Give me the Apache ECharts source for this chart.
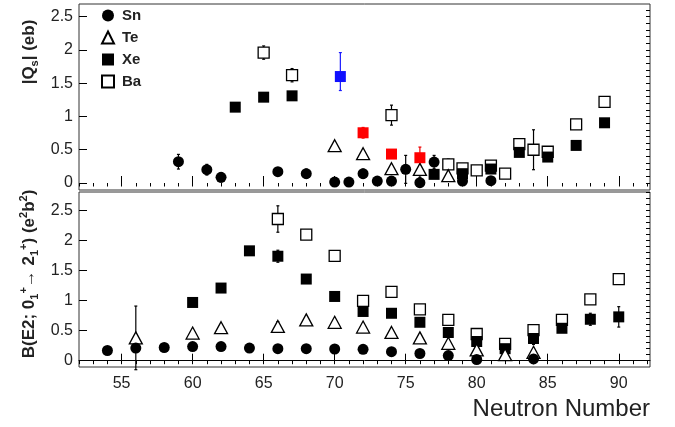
<!DOCTYPE html>
<html>
<head>
<meta charset="utf-8">
<script src="https://cdn.jsdelivr.net/npm/echarts@6/dist/echarts.min.js"></script>
<style>
  html, body { margin: 0; padding: 0; background: #fff; }
  #chart { width: 675px; height: 427px; }
</style>
</head>
<body>
<div id="chart"></div>
<script>
// [N, value, errDown, errUp]
// top panel: |Qs| (eb)
const qSn = [
  [59, 0.32, 0.11, 0.11], [61, 0.20, 0.08, 0.08], [62, 0.085, 0.07, 0.07], [66, 0.17, 0, 0],
  [68, 0.14, 0.07, 0.07], [70, 0.015, 0, 0], [71, 0.015, 0, 0], [72, 0.14, 0.07, 0.07],
  [73, 0.03, 0, 0], [74, 0.03, 0.03, 0.03], [75, 0.205, 0.21, 0.21], [76, 0.005, 0.03, 0.03],
  [77, 0.315, 0.1, 0.1], [79, 0.03, 0.03, 0], [81, 0.035, 0, 0]
]
const qTe = [
  [70, 0.56, 0, 0], [72, 0.44, 0, 0], [74, 0.215, 0, 0], [76, 0.205, 0.12, 0.12], [78, 0.11, 0, 0]
]
const qXe = [
  [63, 1.14, 0, 0], [65, 1.29, 0, 0], [67, 1.31, 0, 0], [77, 0.13, 0, 0], [79, 0.14, 0, 0],
  [81, 0.21, 0, 0], [83, 0.46, 0, 0], [85, 0.39, 0, 0], [87, 0.565, 0, 0], [89, 0.905, 0, 0]
]
const qXeRed = [
  [72, 0.755, 0.08, 0.08], [74, 0.435, 0, 0], [76, 0.38, 0.16, 0.16]
]
const qXeBlue = [
  [70.4, 1.6, 0.21, 0.36]
]
const qBa = [
  [65, 1.96, 0.1, 0.1], [67, 1.62, 0.1, 0.1], [74, 1.02, 0.15, 0.15], [78, 0.28, 0.08, 0.08],
  [79, 0.22, 0, 0], [80, 0.19, 0, 0], [81, 0.26, 0, 0], [82, 0.14, 0, 0], [83, 0.585, 0, 0],
  [84, 0.5, 0.3, 0.3], [85, 0.47, 0, 0], [87, 0.88, 0, 0], [89, 1.22, 0, 0]
]

// bottom panel: B(E2) (e2b2)
const bSn = [
  [54, 0.17, 0, 0], [56, 0.21, 0, 0], [58, 0.22, 0, 0], [60, 0.235, 0, 0], [62, 0.235, 0, 0],
  [64, 0.21, 0, 0], [66, 0.2, 0, 0], [68, 0.2, 0, 0], [70, 0.195, 0, 0], [72, 0.19, 0, 0],
  [74, 0.15, 0, 0], [76, 0.12, 0, 0], [78, 0.085, 0, 0], [80, 0.02, 0, 0], [84, 0.03, 0, 0]
]
const bTe = [
  [56, 0.38, 0.53, 0.53], [60, 0.46, 0, 0], [62, 0.55, 0, 0], [66, 0.57, 0.08, 0.08],
  [68, 0.68, 0, 0], [70, 0.64, 0, 0], [72, 0.56, 0, 0], [74, 0.47, 0, 0], [76, 0.38, 0, 0],
  [78, 0.29, 0, 0], [80, 0.18, 0, 0], [82, 0.1, 0, 0], [84, 0.14, 0, 0]
]
const bXe = [
  [60, 0.97, 0, 0], [62, 1.21, 0, 0], [64, 1.83, 0, 0], [66, 1.74, 0.1, 0.1], [68, 1.36, 0, 0],
  [70, 1.07, 0, 0], [72, 0.82, 0, 0], [74, 0.79, 0, 0], [76, 0.64, 0, 0], [78, 0.47, 0, 0],
  [80, 0.32, 0, 0], [82, 0.2, 0, 0], [84, 0.37, 0.1, 0.1], [86, 0.54, 0, 0],
  [88, 0.69, 0.1, 0.1], [90, 0.73, 0.17, 0.17]
]
const bBa = [
  [66, 2.36, 0.22, 0.22], [68, 2.1, 0, 0], [70, 1.745, 0, 0], [72, 0.995, 0, 0], [74, 1.145, 0, 0],
  [76, 0.855, 0, 0], [78, 0.68, 0, 0], [80, 0.445, 0, 0], [82, 0.28, 0, 0], [84, 0.51, 0, 0],
  [86, 0.68, 0, 0], [88, 1.02, 0, 0], [90, 1.36, 0, 0]
]

const xLabels = [55, 60, 65, 70, 75, 80, 85, 90]
const yLabels = [0, 0.5, 1, 1.5, 2, 2.5]
const xMinor = []
for (let n = 52; n <= 92; n++) xMinor.push(n)
const yMinor = []
for (let i = 0; i <= 28; i++) yMinor.push(+(i * 0.1).toFixed(1))

const FONT = '"Liberation Sans", Arial, sans-serif'
const X_MIN = 52, X_MAX = 92.2
const Y_MIN = -0.105

const chart = echarts.init(document.getElementById('chart'))

function xAxis(grid, ticks, len, labels) {
  return {
    type: 'value', gridIndex: grid, min: X_MIN, max: X_MAX,
    splitLine: { show: false },
    axisLine: { show: !!labels, lineStyle: { color: '#000', width: 1 } },
    axisTick: { inside: true, length: len, customValues: ticks, lineStyle: { color: '#000' } },
    axisLabel: labels ? { customValues: labels, color: '#222', fontSize: 16, fontFamily: FONT, margin: 9 } : { show: false }
  }
}
function yAxis(grid, max, ticks, len, labels) {
  return {
    type: 'value', gridIndex: grid, min: Y_MIN, max: max,
    splitLine: { show: false },
    axisLine: { show: false },
    axisTick: { inside: true, length: len, customValues: ticks, lineStyle: { color: '#000' } },
    axisLabel: labels ? {
      customValues: labels, color: '#222', fontSize: 16, fontFamily: FONT, margin: 6,
      formatter: v => String(v)
    } : { show: false }
  }
}

const solid = { color: '#000', opacity: 1 }
const hollow = { color: '#fff', borderColor: '#000', borderWidth: 1.3, opacity: 1 }

function scat(name, data, grid, symbol, size, style, z) {
  return {
    type: 'scatter', name: name, xAxisIndex: grid * 2, yAxisIndex: grid * 2,
    data: data.map(d => [d[0], d[1]]),
    symbol: symbol, symbolSize: size, itemStyle: style, z: z,
    emphasis: { disabled: true }, silent: true
  }
}
function errs(data, grid, color) {
  return {
    type: 'custom', xAxisIndex: grid * 2, yAxisIndex: grid * 2, z: 1, silent: true,
    data: data.filter(d => d[2] > 0 || d[3] > 0),
    encode: { x: 0, y: 1 },
    renderItem: function (params, api) {
      const x = api.value(0), y = api.value(1)
      const lo = api.coord([x, y - api.value(2)])
      const hi = api.coord([x, y + api.value(3)])
      const st = { stroke: color, lineWidth: 1.2 }
      return {
        type: 'group',
        children: [
          { type: 'line', shape: { x1: lo[0], y1: lo[1], x2: hi[0], y2: hi[1] }, style: st },
          { type: 'line', shape: { x1: lo[0] - 1.5, y1: lo[1], x2: lo[0] + 1.5, y2: lo[1] }, style: st },
          { type: 'line', shape: { x1: hi[0] - 1.5, y1: hi[1], x2: hi[0] + 1.5, y2: hi[1] }, style: st }
        ]
      }
    }
  }
}

const option = {
  animation: false,
  grid: [
    { left: 79, right: 25, top: 4, height: 186, show: true, borderColor: '#333', borderWidth: 1 },
    { left: 79, right: 25, top: 192, height: 175, show: true, borderColor: '#333', borderWidth: 1 }
  ],
  xAxis: [
    xAxis(0, xLabels, 7),
    xAxis(0, xMinor, 3.5),
    xAxis(1, xLabels, 7, xLabels),
    xAxis(1, xMinor, 3.5)
  ],
  yAxis: [
    yAxis(0, 2.69, yLabels, 8, yLabels),
    yAxis(0, 2.69, yMinor, 4),
    yAxis(1, 2.81, yLabels, 8, yLabels),
    yAxis(1, 2.81, yMinor, 4)
  ],
  legend: {
    orient: 'vertical', left: 96, top: 3,
    itemWidth: 12, itemHeight: 12, itemGap: 7,
    selectedMode: false,
    textStyle: { fontFamily: FONT, fontSize: 15, fontWeight: 'bold', color: '#222', padding: [0, 0, 0, 3] },
    data: ['Sn', 'Te', 'Xe', 'Ba']
  },
  graphic: [
    {
      type: 'text', x: 29, y: 52, rotation: Math.PI / 2,
      style: {
        text: '|Q{sub|s}| (eb)',
        font: 'bold 17px ' + FONT, fill: '#222', align: 'center', verticalAlign: 'middle',
        lineHeight: 22,
        rich: {
          sub: { fontSize: 11, fontWeight: 'bold', fontFamily: FONT, lineHeight: 11, verticalAlign: 'bottom', fill: '#222' }
        }
      }
    },
    {
      type: 'text', x: 29, y: 274, rotation: Math.PI / 2,
      style: {
        text: 'B(E2; 0{sub|1}{sup|+}\u2192 2{sub|1}{sup|+}) (e{sup|2}b{sup|2})',
        font: 'bold 17px ' + FONT, fill: '#222', align: 'center', verticalAlign: 'middle',
        lineHeight: 22,
        rich: {
          sub: { fontSize: 11, fontWeight: 'bold', fontFamily: FONT, lineHeight: 11, verticalAlign: 'bottom', fill: '#222' },
          sup: { fontSize: 11, fontWeight: 'bold', fontFamily: FONT, lineHeight: 11, verticalAlign: 'top', fill: '#222' }
        }
      }
    },
    {
      type: 'text', x: 650, y: 409,
      style: { text: 'Neutron Number', font: '24px ' + FONT, fill: '#222', align: 'right', verticalAlign: 'middle' }
    }
  ],
  series: [
    errs(qSn, 0, '#000'), errs(qTe, 0, '#000'), errs(qXe, 0, '#000'), errs(qBa, 0, '#000'),
    errs(qXeRed, 0, '#e00'), errs(qXeBlue, 0, '#1a1aff'),
    scat('Ba', qBa, 0, 'rect', 11, hollow, 3),
    scat('Xe', qXe, 0, 'rect', 11, solid, 4),
    scat('Te', qTe, 0, 'triangle', [13, 12], hollow, 5),
    scat('Sn', qSn, 0, 'circle', 11, solid, 6),
    scat('XeRed', qXeRed, 0, 'rect', 11, { color: '#f00', opacity: 1 }, 7),
    scat('XeBlue', qXeBlue, 0, 'rect', 11, { color: '#1010ff', opacity: 1 }, 7),
    errs(bSn, 1, '#000'), errs(bTe, 1, '#000'), errs(bXe, 1, '#000'), errs(bBa, 1, '#000'),
    scat('Ba', bBa, 1, 'rect', 11, hollow, 3),
    scat('Xe', bXe, 1, 'rect', 11, solid, 4),
    scat('Te', bTe, 1, 'triangle', [13, 12], hollow, 5),
    scat('Sn', bSn, 1, 'circle', 11, solid, 6)
  ]
}

chart.setOption(option)
</script>
</body>
</html>
